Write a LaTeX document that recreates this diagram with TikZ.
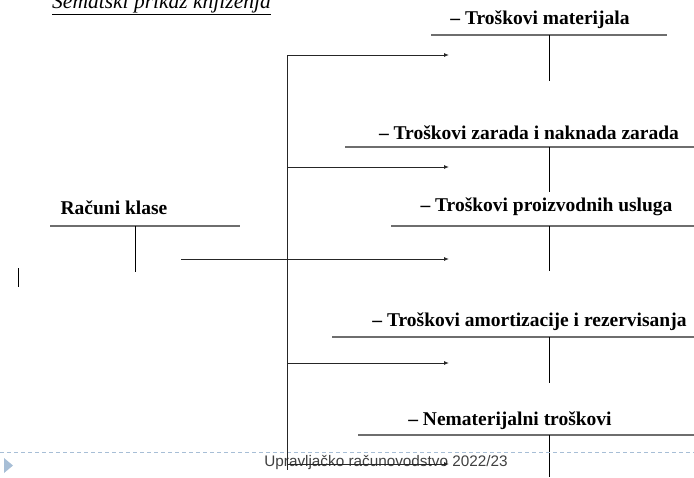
\documentclass[tikz,border=0pt]{standalone}
\usepackage{fontspec}
\setmainfont{Liberation Serif}
\newfontfamily\footfont{Liberation Sans}
\usetikzlibrary{arrows.meta}
\definecolor{tline}{HTML}{6E6E6E}
\definecolor{footblue}{HTML}{A7BED6}
\definecolor{foottext}{HTML}{404040}
\tikzset{
  acct/.style={font=\bfseries\fontsize{19.5}{21}\selectfont, inner sep=0pt},
  tbar/.style={draw=tline, line width=1.8pt},
  tstem/.style={draw=black, line width=0.8pt},
  flow/.style={draw=black!85, line width=0.9pt},
  arr/.style={flow, -{Latex[length=5pt,width=4pt]}},
}
\begin{document}
\begin{tikzpicture}[x=1pt,y=-1pt]
\useasboundingbox (0,0) rectangle (694,477);
% title
\node[inner sep=0pt, anchor=base, font=\itshape\fontsize{21.5}{23}\selectfont] (title) at (161.5,8) {\underline{Šematski prikaz knjiženja}};
% source account
\node[acct] (src) at (114,208) {Računi klase};
\coordinate (srcL) at (50,226); \coordinate (srcR) at (240,226);
\coordinate (srcB) at (135,272);
\draw[tbar] (srcL) -- (srcR);
\draw[tstem] (135,226) -- (srcB);
\coordinate (tickA) at (18,268); \coordinate (tickB) at (18,287);
\draw[tstem] (tickA) -- (tickB);
% target accounts
\node[acct] (a1) at (540,20) {– Troškovi materijala};
\draw[tbar] (431,35) coordinate (a1L) -- (667,35) coordinate (a1R);
\draw[tstem] (549,35) -- (549,81) coordinate (a1B);
\node[acct] (a2) at (529,133) {– Troškovi zarada i naknada zarada};
\draw[tbar] (345,147) coordinate (a2L) -- (694,147) coordinate (a2R);
\draw[tstem] (549,147) -- (549,192) coordinate (a2B);
\node[acct] (a3) at (546.5,207) {– Troškovi proizvodnih usluga};
\draw[tbar] (391,226) coordinate (a3L) -- (694,226) coordinate (a3R);
\draw[tstem] (549,226) -- (549,271) coordinate (a3B);
\node[acct] (a4) at (529.5,322) {– Troškovi amortizacije i rezervisanja};
\draw[tbar] (332,337) coordinate (a4L) -- (694,337) coordinate (a4R);
\draw[tstem] (549,337) -- (549,383) coordinate (a4B);
\node[acct] (a5) at (510,421) {– Nematerijalni troškovi};
\draw[tbar] (358,435) coordinate (a5L) -- (694,435) coordinate (a5R);
\draw[tstem] (549,435) -- (549,477) coordinate (a5B);
% footer
\draw[footblue, line width=0.8pt, dash pattern=on 4pt off 3pt] (0,452) coordinate (dl) -- (694,452) coordinate (dr);
\fill[footblue] (4,458) -- (13,465.5) -- (4,473) -- cycle;
\node[inner sep=0pt, text=foottext, font=\footfont\fontsize{15.3}{17}\selectfont] (foot) at (386,463) {Upravljačko računovodstvo 2022/23};
% flow arrows
\coordinate (e1) at (449,55); \coordinate (e2) at (449,167); \coordinate (e3) at (449,259);
\coordinate (e4) at (449,363); \coordinate (e5) at (449,464);
\coordinate (s0) at (181,259);
\draw[flow] (287,55) -- (287,470) coordinate (vb);
\draw[arr] (287,55) -- (e1);
\draw[arr] (287,167) -- (e2);
\draw[arr] (s0) -- (e3);
\draw[arr] (287,363) -- (e4);
\draw[arr] (287,464) -- (e5);
\end{tikzpicture}
\end{document}
